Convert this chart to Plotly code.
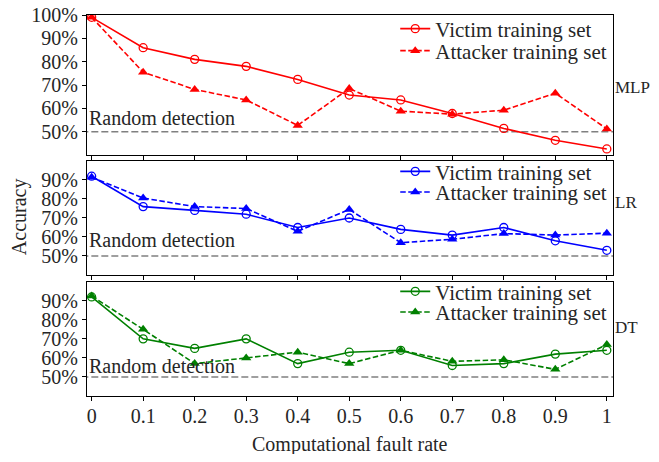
import plotly.graph_objects as go

rates = [0, 0.1, 0.2, 0.3, 0.4, 0.5, 0.6, 0.7, 0.8, 0.9, 1.0]
tick_labels = ["0", "0.1", "0.2", "0.3", "0.4", "0.5", "0.6", "0.7", "0.8", "0.9", "1"]

mlp_victim = [99, 86, 81, 78, 72.4, 65.7, 63.6, 57.8, 51.4, 46.3, 42.6]
mlp_attacker = [99, 75.5, 68.1, 63.6, 52.7, 68.5, 58.8, 57.5, 59.2, 66.5, 51.2]
lr_victim = [92, 76, 74, 72, 65, 70, 64, 61, 65, 58, 53]
lr_attacker = [91.5, 80.5, 76, 75, 63, 74.5, 57, 58.8, 61.8, 61, 62]
dt_victim = [92, 70, 65, 70, 57, 63, 64, 56, 57, 62, 64]
dt_attacker = [92.5, 75, 57, 60, 63, 57, 64, 58.2, 59, 54, 67]

random_level = 50
panel_names = ["MLP", "LR", "DT"]
colors = ["#ff0000", "#0000ff", "#008000"]
series = [(mlp_victim, mlp_attacker), (lr_victim, lr_attacker), (dt_victim, dt_attacker)]

FONT = "Liberation Serif"
TXT = "#262626"
FS = 20

fig = go.Figure()
domains = [[0.6325, 1.0], [0.3176, 0.6168], [0.0, 0.300]]
legend_rows = [(0.9633, 0.9055), (0.5887, 0.5346), (0.2738, 0.2197)]
label_ys = [0.811, 0.509, 0.181]
random_text_y = [56.0, 58.5, 55.6]
layout = {}
annotations = []

for i in range(3):
    ax = "" if i == 0 else str(i + 1)
    xa, ya = "x" + ax, "y" + ax
    leg_v = "legend" + ("" if i == 0 else str(2 * i + 1))
    leg_a = "legend" + str(2 * i + 2)
    v, a = series[i]
    c = colors[i]
    fig.add_trace(go.Scatter(x=[-0.02, 1.03], y=[random_level, random_level], mode="lines",
                             line=dict(color="#808080", width=1.5, dash="7px,3px"),
                             xaxis=xa, yaxis=ya, showlegend=False, hoverinfo="skip"))
    fig.add_trace(go.Scatter(x=rates, y=v, mode="lines+markers", name="Victim training set",
                             line=dict(color=c, width=1.6),
                             marker=dict(symbol="circle-open", size=8, color=c, line=dict(width=1.3, color=c)),
                             xaxis=xa, yaxis=ya, legend=leg_v))
    fig.add_trace(go.Scatter(x=rates, y=a, mode="lines+markers", name="Attacker training set",
                             line=dict(color=c, width=1.6, dash="5.5px,2.5px"),
                             marker=dict(symbol="triangle-up", size=9, color=c),
                             xaxis=xa, yaxis=ya, legend=leg_a))
    layout["xaxis" + ax] = dict(
        domain=[0, 1], range=[-0.009, 1.012], anchor=ya,
        tickvals=rates, ticktext=tick_labels, showticklabels=(i == 2),
        ticks="outside", ticklen=4, tickwidth=1, tickcolor="#000",
        showline=True, linecolor="#000", linewidth=1, mirror=True,
        showgrid=False, zeroline=False, ticklabelstandoff=-2, automargin=False,
        tickfont=dict(family=FONT, size=FS, color=TXT),
    )
    if i == 0:
        yt = [50, 60, 70, 80, 90, 100]
    else:
        yt = [50, 60, 70, 80, 90]
    layout["yaxis" + ax] = dict(
        domain=domains[i], range=[40, 100], anchor=xa,
        tickvals=yt, ticktext=[f"{t}%" for t in yt],
        ticks="outside", ticklen=4, tickwidth=1, tickcolor="#000",
        showline=True, linecolor="#000", linewidth=1, mirror=True,
        showgrid=False, zeroline=False, ticklabeloverflow="allow", automargin=False,
        tickfont=dict(family=FONT, size=FS, color=TXT),
    )
    for leg, ly in ((leg_v, legend_rows[i][0]), (leg_a, legend_rows[i][1])):
        layout[leg] = dict(
            x=0.586, xanchor="left", y=ly, yanchor="middle",
            bgcolor="rgba(0,0,0,0)", font=dict(family=FONT, size=FS + 1, color=TXT),
            tracegroupgap=0,
        )
    annotations.append(dict(x=0, y=random_text_y[i], xref=xa + " domain", yref=ya, xanchor="left",
                            yanchor="middle", text="Random detection", showarrow=False,
                            font=dict(family=FONT, size=FS, color=TXT)))
    annotations.append(dict(x=1.0, y=label_ys[i], xref="paper", yref="paper", xanchor="left",
                            yanchor="middle", text=panel_names[i], showarrow=False,
                            font=dict(family=FONT, size=17, color=TXT)))

annotations.append(dict(x=-0.127, y=0.47, xref="paper", yref="paper", text="Accuracy",
                        textangle=-90, showarrow=False, xanchor="center", yanchor="middle",
                        font=dict(family=FONT, size=FS, color=TXT)))
annotations.append(dict(x=0.5, y=-0.1635, xref="paper", yref="paper", text="Computational fault rate",
                        showarrow=False, xanchor="center", yanchor="bottom",
                        font=dict(family=FONT, size=FS, color=TXT)))

fig.update_layout(
    width=643, height=446,
    margin=dict(l=79, r=38, t=7, b=58, autoexpand=False),
    paper_bgcolor="white", plot_bgcolor="white",
    annotations=annotations,
    **layout,
)

fig.write_html("out.html")
